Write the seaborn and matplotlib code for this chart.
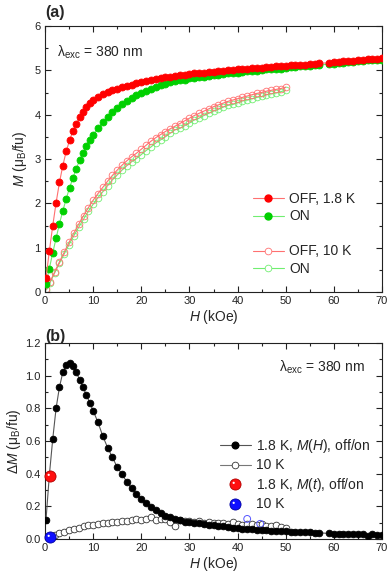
import numpy as np
import pandas as pd
import seaborn as sns
import matplotlib
matplotlib.use("Agg")
import matplotlib.pyplot as plt
from matplotlib.lines import Line2D
from matplotlib.legend_handler import HandlerTuple
from matplotlib.ticker import MultipleLocator
from matplotlib.path import Path

# ---------------- data ----------------
# 1.8 K field grid (kOe)
H18 = [0.2, 0.9, 1.6, 2.3, 3.0, 3.7, 4.4, 5.1, 5.8, 6.5, 7.2, 7.9, 8.6, 9.3, 10.0,
       11, 12, 13, 14, 15, 16, 17, 18, 19, 20, 21, 22, 23, 24, 25, 26, 27, 28, 29, 30,
       31, 32, 33, 34, 35, 36, 37, 38, 39, 40, 41, 42, 43, 44, 45, 46, 47, 48, 49, 50,
       51, 52, 53, 54, 55, 56, 57, 59, 60, 61, 62, 63, 64, 65, 66, 67, 68, 69, 70]
M18_off = [0.31, 0.92, 1.49, 2.01, 2.47, 2.85, 3.17, 3.42, 3.63, 3.80, 3.95, 4.07, 4.17, 4.26, 4.33,
           4.40, 4.46, 4.51, 4.55, 4.59, 4.62, 4.65, 4.68, 4.71, 4.73, 4.76, 4.78, 4.80, 4.82, 4.84,
           4.86, 4.87, 4.89, 4.90, 4.92, 4.93, 4.94, 4.95, 4.96, 4.97, 4.98, 4.99, 5.00, 5.01, 5.02,
           5.03, 5.04, 5.05, 5.05, 5.06, 5.07, 5.08, 5.09, 5.09, 5.10, 5.11, 5.12, 5.13, 5.13, 5.14,
           5.15, 5.16, 5.17, 5.18, 5.19, 5.20, 5.21, 5.22, 5.23, 5.24, 5.25, 5.26, 5.26, 5.27]
M18_on = [0.19, 0.53, 0.88, 1.21, 1.54, 1.83, 2.10, 2.35, 2.57, 2.78, 2.98, 3.14, 3.29, 3.43, 3.55,
          3.69, 3.83, 3.95, 4.05, 4.15, 4.23, 4.30, 4.37, 4.44, 4.49, 4.54, 4.59, 4.63, 4.66, 4.70,
          4.73, 4.75, 4.78, 4.79, 4.82, 4.83, 4.85, 4.86, 4.87, 4.89, 4.90, 4.91, 4.93, 4.94, 4.95,
          4.97, 4.98, 4.99, 4.99, 5.01, 5.02, 5.03, 5.04, 5.04, 5.05, 5.07, 5.08, 5.09, 5.09, 5.10,
          5.11, 5.12, 5.14, 5.15, 5.16, 5.17, 5.18, 5.19, 5.20, 5.21, 5.23, 5.23, 5.23, 5.24]
dM18 = [0.114, 0.39, 0.61, 0.80, 0.93, 1.02, 1.065, 1.075, 1.06, 1.02, 0.975, 0.93, 0.88, 0.835, 0.785,
        0.715, 0.63, 0.56, 0.50, 0.44, 0.395, 0.35, 0.31, 0.275, 0.245, 0.22, 0.195, 0.175, 0.158, 0.143,
        0.132, 0.122, 0.114, 0.107, 0.105, 0.10, 0.095, 0.091, 0.087, 0.083, 0.08, 0.077, 0.073, 0.07, 0.067,
        0.064, 0.062, 0.06, 0.057, 0.055, 0.053, 0.051, 0.05, 0.048, 0.046, 0.045, 0.044, 0.042, 0.041, 0.04,
        0.039, 0.038, 0.034, 0.033, 0.033, 0.032, 0.031, 0.031, 0.03, 0.029, 0.018, 0.028, 0.027, 0.027]

# 10 K field grid (kOe)
H10 = [0.3, 1, 2, 3, 4, 5, 6, 7, 8, 9, 10, 11, 12, 13, 14, 15, 16, 17, 18, 19, 20,
       21, 22, 23, 24, 25, 26, 27, 28, 29, 30, 31, 32, 33, 34, 35, 36, 37, 38, 39, 40,
       41, 42, 43, 44, 45, 46, 47, 48, 49, 50]
M10_off = [0.06, 0.22, 0.45, 0.68, 0.90, 1.12, 1.33, 1.53, 1.72, 1.90, 2.07, 2.22, 2.36, 2.50, 2.63,
           2.75, 2.86, 2.96, 3.05, 3.13, 3.22, 3.31, 3.40, 3.48, 3.55, 3.62, 3.68, 3.74, 3.80, 3.86,
           3.92, 3.98, 4.03, 4.08, 4.13, 4.18, 4.22, 4.26, 4.30, 4.33, 4.36, 4.39, 4.42, 4.45, 4.48,
           4.50, 4.53, 4.55, 4.57, 4.59, 4.62]
M10_on = [0.05, 0.20, 0.43, 0.65, 0.86, 1.07, 1.27, 1.46, 1.64, 1.82, 1.98, 2.13, 2.26, 2.40, 2.53,
          2.64, 2.75, 2.85, 2.94, 3.01, 3.10, 3.19, 3.27, 3.36, 3.43, 3.50, 3.58, 3.66, 3.69, 3.75,
          3.81, 3.88, 3.92, 3.98, 4.03, 4.08, 4.12, 4.17, 4.21, 4.23, 4.27, 4.31, 4.33, 4.36, 4.39,
          4.41, 4.45, 4.47, 4.49, 4.52, 4.55]
dM10 = [0.01, 0.02, 0.025, 0.035, 0.045, 0.055, 0.062, 0.07, 0.077, 0.083, 0.088, 0.093, 0.097, 0.10, 0.104,
        0.107, 0.109, 0.111, 0.115, 0.12, 0.118, 0.12, 0.135, 0.118, 0.125, 0.12, 0.105, 0.08, 0.115, 0.11,
        0.108, 0.105, 0.11, 0.10, 0.105, 0.098, 0.10, 0.095, 0.09, 0.105, 0.092, 0.085, 0.09, 0.09, 0.088,
        0.092, 0.08, 0.082, 0.085, 0.075, 0.07]
H10_blue = [42.0, 44.7]
dM10_blue = [0.123, 0.093]

# M(t) measurements
Ht = [1.0, 1.0]
dMt = [0.385, 0.015]
Mt_colors = ["#ff1010", "#1010ff"]
Mt_rims = ["#b00000", "#0000a0"]

# ---------------- style ----------------
sns.set_style("ticks")
plt.rcParams["font.family"] = ["Liberation Sans", "DejaVu Sans"]
plt.rcParams["mathtext.fontset"] = "custom"
plt.rcParams["mathtext.rm"] = "Liberation Sans"
plt.rcParams["mathtext.it"] = "Liberation Sans:italic"
plt.rcParams["mathtext.bf"] = "Liberation Sans:bold"
plt.rcParams["axes.linewidth"] = 0.8
plt.rcParams["axes.edgecolor"] = "#222222"

RED = "#ff0000"
RED_L = "#ff7070"
GRN = "#00d000"
GRN_L = "#70ee70"

fig = plt.figure(figsize=(3.9, 5.76), dpi=100)
W, Hh = 390.0, 576.0
axa = fig.add_axes([45 / W, 1 - 292 / Hh, 337 / W, 266 / Hh])
axb = fig.add_axes([45 / W, 1 - 539 / Hh, 337 / W, 196 / Hh])

ms = 5.0
ms_o = 4.8

def line(ax, x, y, lc, fc, ec, lw=0.8, mew=0.6, ms=ms, z=2):
    sns.lineplot(x=x, y=y, ax=ax, estimator=None, sort=False, color=lc, lw=lw,
                 marker="o", markersize=ms, markerfacecolor=fc, markeredgecolor=ec,
                 markeredgewidth=mew, zorder=z)

# panel (a)
line(axa, H10, M10_on, GRN_L, "none", GRN_L, ms=ms_o, z=2)
line(axa, H10, M10_off, RED_L, "none", RED_L, ms=ms_o, z=2)
line(axa, H18, M18_on, GRN_L, GRN, GRN, z=3)
line(axa, H18, M18_off, RED_L, RED, RED, z=3)

# panel (b)
line(axb, H10, dM10, "#777777", "white", "#333333", mew=0.6, ms=ms_o, z=2)
sns.scatterplot(x=H10_blue, y=dM10_blue, ax=axb, s=24, facecolor="none",
                edgecolor="#5555ff", linewidth=0.7, zorder=2)
line(axb, H18, dM18, "#555555", "black", "black", ms=4.8, z=3)

# highlight marker (small white spot offset to upper-left inside the ball)
_circ = Path.circle(center=(-0.33, 0.30), radius=0.2)
HL = Path.make_compound_path(Path([(-1, -1), (1, 1)], [Path.MOVETO, Path.MOVETO]), _circ)
BALL_MS = 8.0
for h, d, c, r in zip(Ht, dMt, Mt_colors, Mt_rims):
    axb.plot([h], [d], "o", ms=BALL_MS, mfc=c, mec=r, mew=0.6, zorder=5, clip_on=False)
    axb.plot([h], [d], linestyle="none", marker=HL, ms=BALL_MS, mfc="white", mec="none",
             zorder=6, clip_on=False)

for ax in (axa, axb):
    ax.set_xlim(0, 70)
    ax.xaxis.set_major_locator(MultipleLocator(10))
    ax.xaxis.set_minor_locator(MultipleLocator(5))
    ax.tick_params(which="both", direction="in", top=True, right=True, labelsize=8,
                   colors="#222222", width=0.8)
    ax.tick_params(which="major", length=4.5, pad=3)
    ax.tick_params(which="minor", length=2.5)
    ax.set_xlabel(r"$H$ (kOe)", fontsize=10, labelpad=1)

axa.set_ylim(0, 6)
axa.yaxis.set_major_locator(MultipleLocator(1))
axa.yaxis.set_minor_locator(MultipleLocator(0.5))
axa.set_ylabel(r"$M$ (μ$_\mathrm{B}$/fu)", fontsize=10, labelpad=4)

axb.set_ylim(0, 1.2)
axb.yaxis.set_major_locator(MultipleLocator(0.2))
axb.yaxis.set_minor_locator(MultipleLocator(0.1))
axb.yaxis.set_major_formatter(matplotlib.ticker.FormatStrFormatter("%.1f"))
axb.set_ylabel(r"Δ$M$ (μ$_\mathrm{B}$/fu)", fontsize=10, labelpad=2)

# annotations
fig.text(45 / W, 1 - 12 / Hh, "(a)", fontsize=11.5, fontweight="bold", va="center", ha="left")
fig.text(45 / W, 1 - 336 / Hh, "(b)", fontsize=11.5, fontweight="bold", va="center", ha="left")
axa.text(0.035, 0.9, r"λ$_\mathrm{exc}$ = 380 nm", transform=axa.transAxes, fontsize=10,
         ha="left", va="center")
axb.text(0.95, 0.875, r"λ$_\mathrm{exc}$ = 380 nm", transform=axb.transAxes, fontsize=10,
         ha="right", va="center")

# legend (a)
ha_ = [
    Line2D([], [], color=RED_L, lw=0.8, marker="o", ms=ms, mfc=RED, mec=RED),
    Line2D([], [], color=GRN_L, lw=0.8, marker="o", ms=ms, mfc=GRN, mec=GRN),
    Line2D([], [], linestyle="none"),
    Line2D([], [], color=RED_L, lw=0.8, marker="o", ms=ms_o, mfc="white", mec=RED_L, mew=0.6),
    Line2D([], [], color=GRN_L, lw=0.8, marker="o", ms=ms_o, mfc="white", mec=GRN_L, mew=0.6),
]
la_ = ["OFF, 1.8 K", "ON", "", "OFF, 10 K", "ON"]
axa.legend(ha_, la_, loc="upper left", bbox_to_anchor=((253 - 45) / 337, (292 - 192) / 266),
           frameon=False, fontsize=10, handlelength=2.2, handletextpad=0.4,
           labelspacing=0.25, borderpad=0, borderaxespad=0)

# legend (b)
def ball(c, r):
    return (Line2D([], [], linestyle="none", marker="o", ms=BALL_MS, mfc=c, mec=r, mew=0.6),
            Line2D([], [], linestyle="none", marker=HL, ms=BALL_MS, mfc="white", mec="none"))

hb_ = [
    Line2D([], [], color="#555555", lw=0.8, marker="o", ms=4.8, mfc="black", mec="black"),
    Line2D([], [], color="#777777", lw=0.8, marker="o", ms=ms_o, mfc="white", mec="#333333", mew=0.6),
    ball(Mt_colors[0], Mt_rims[0]),
    ball(Mt_colors[1], Mt_rims[1]),
]
lb_ = [r"1.8 K, $M$($H$), off/on", "10 K", r"1.8 K, $M$($t$), off/on", "10 K"]
axb.legend(hb_, lb_, loc="upper left", bbox_to_anchor=((220 - 45) / 337, (539 - 437) / 196),
           frameon=False, fontsize=10, handlelength=2.2, handletextpad=0.4,
           labelspacing=0.25, borderpad=0, borderaxespad=0,
           handler_map={tuple: HandlerTuple(ndivide=1, pad=0)})

fig.savefig("out.png", dpi=100)
